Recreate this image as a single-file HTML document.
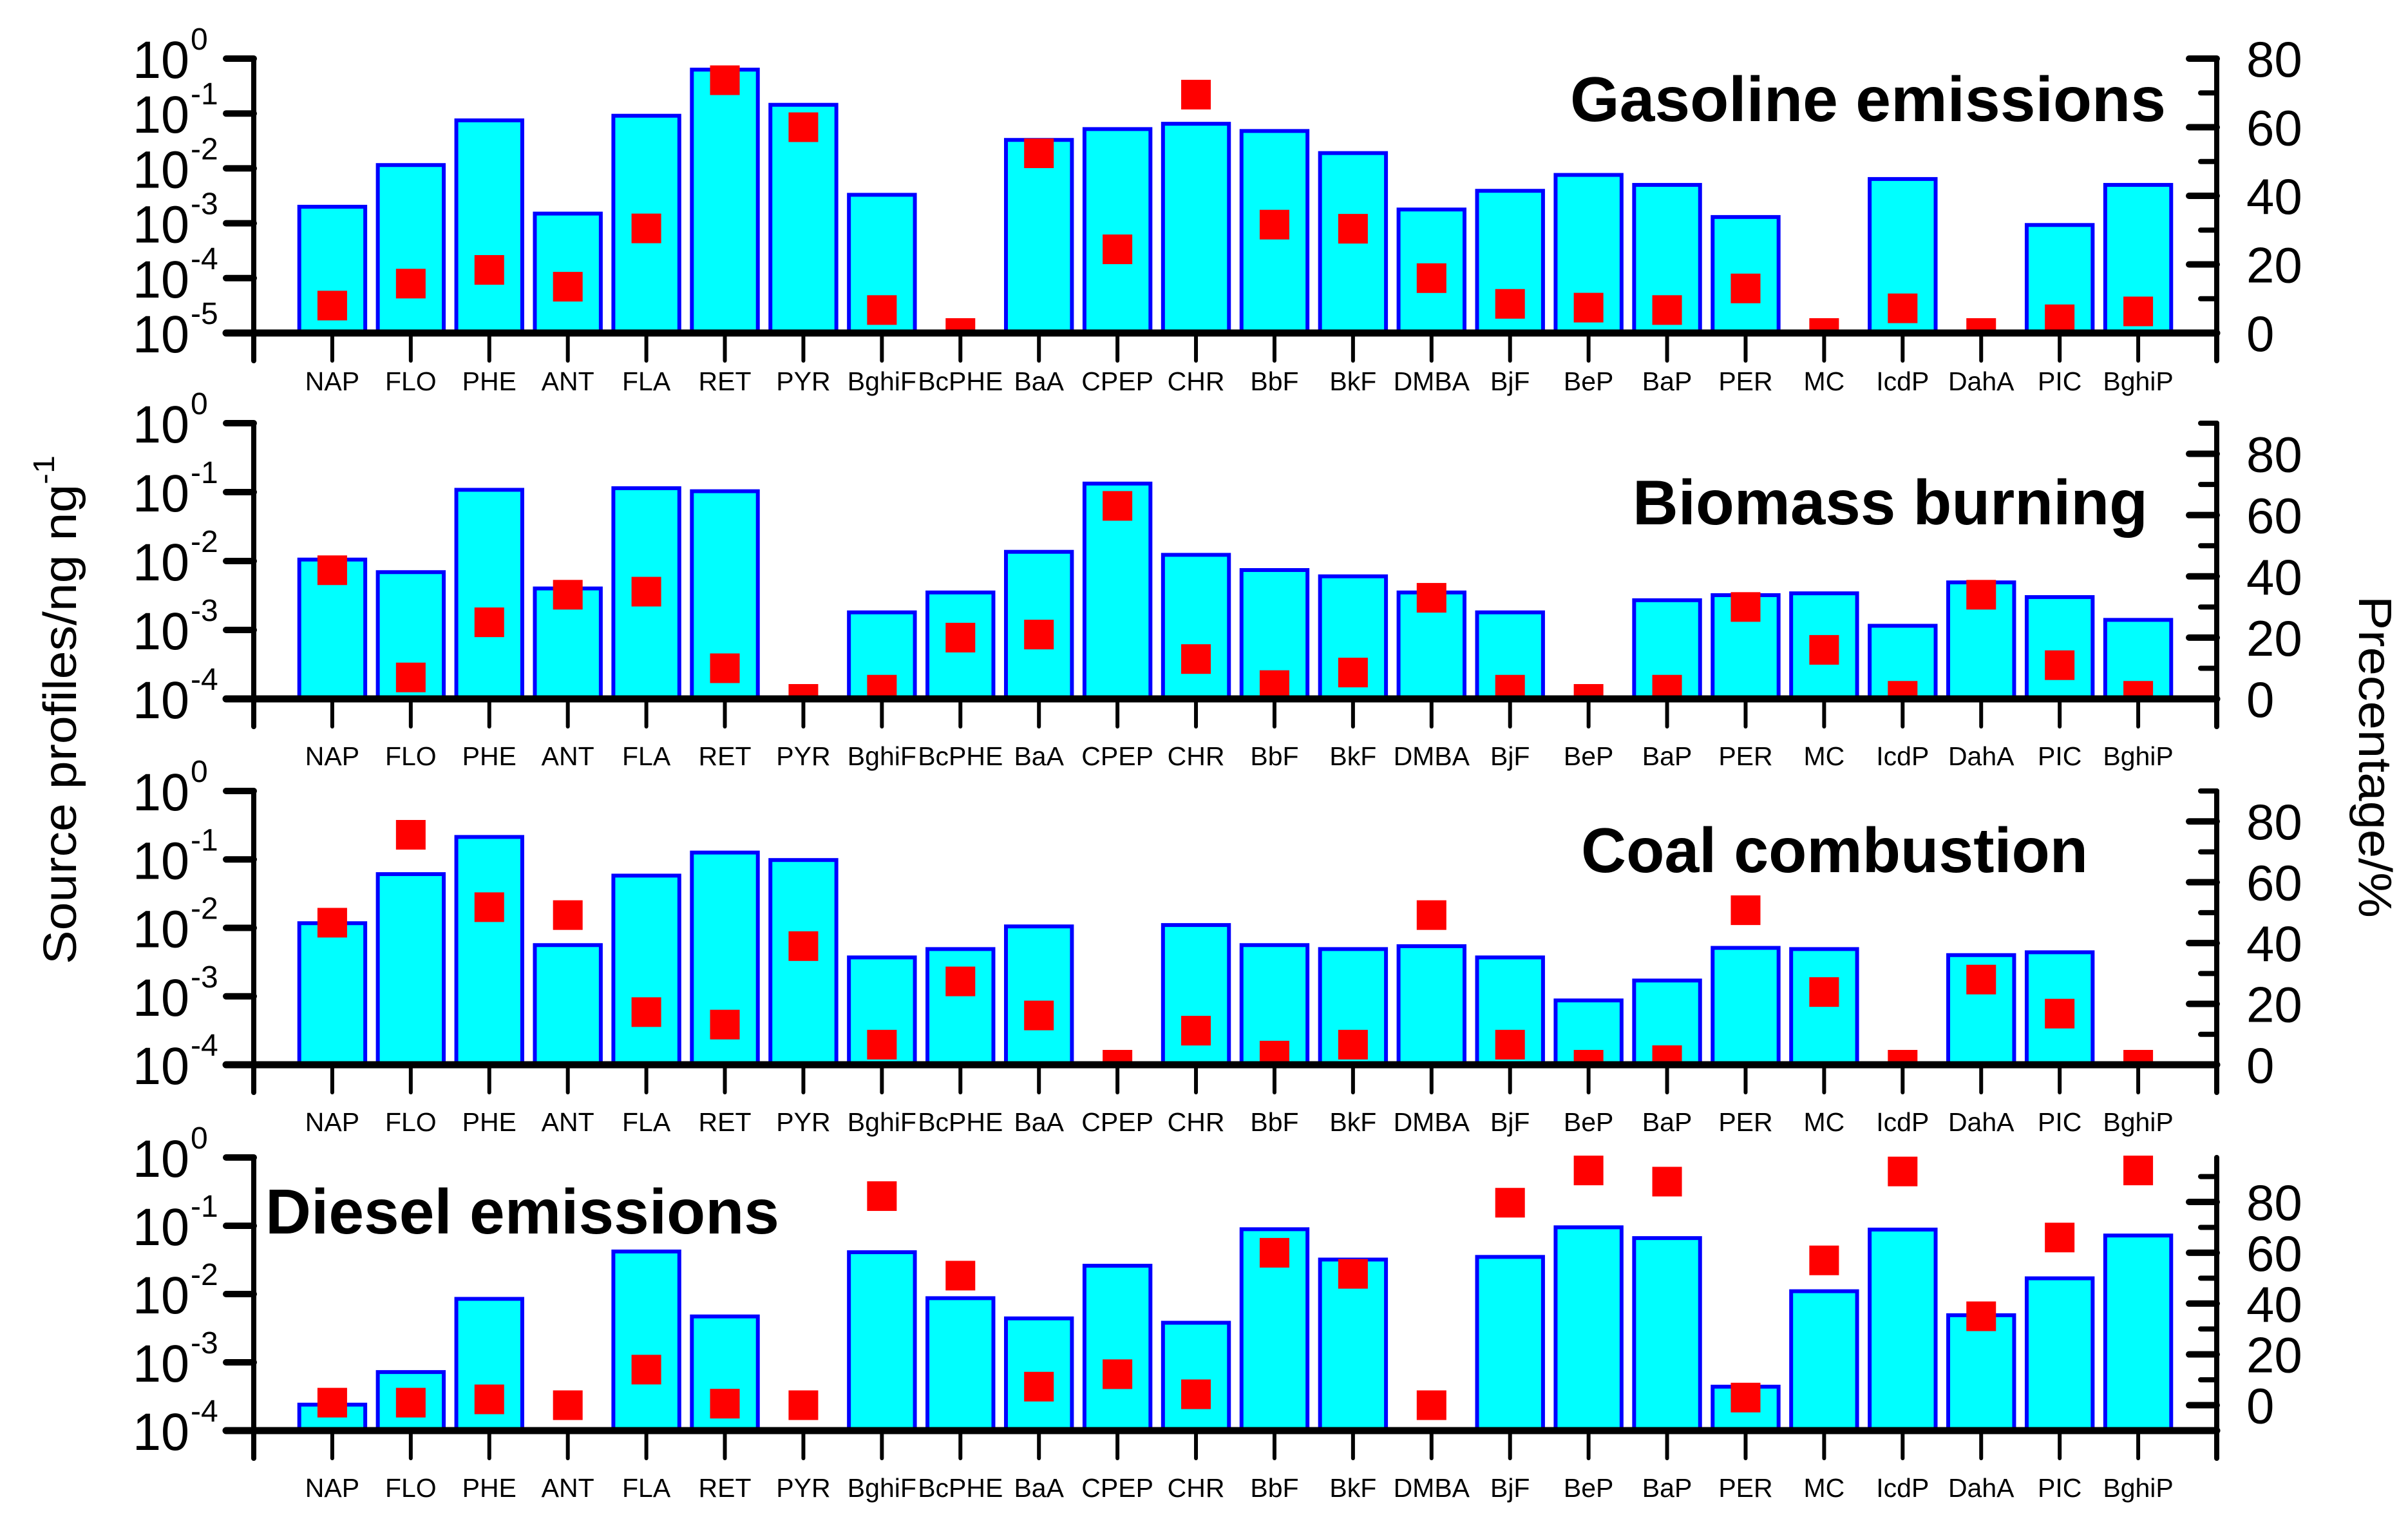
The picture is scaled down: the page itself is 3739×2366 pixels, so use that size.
<!DOCTYPE html>
<html><head><meta charset="utf-8"><title>PAH source profiles</title>
<style>html,body{margin:0;padding:0;background:#fff}svg{display:block}text{font-family:"Liberation Sans",Arial,sans-serif}</style>
</head><body>
<svg id="chart" xmlns="http://www.w3.org/2000/svg" width="3739" height="2366" viewBox="0 0 3739 2366">
<rect width="3739" height="2366" fill="#fff"/>
<g id="plots"></g>
<text transform="translate(118,1102) rotate(-90)" text-anchor="middle" font-size="72" textLength="790" lengthAdjust="spacingAndGlyphs">Source profiles/ng ng<tspan dy="-34" font-size="46">-1</tspan></text>
<text transform="translate(3663,1175) rotate(90)" text-anchor="middle" font-size="72" textLength="500" lengthAdjust="spacingAndGlyphs">Precentage/%</text>
</svg>
<script>
const categories = ["NAP","FLO","PHE","ANT","FLA","RET","PYR","BghiF","BcPHE","BaA","CPEP","CHR","BbF","BkF","DMBA","BjF","BeP","BaP","PER","MC","IcdP","DahA","PIC","BghiP"];
const panelTitles = ["Gasoline emissions","Biomass burning","Coal combustion","Diesel emissions"];
const gasolineProfile = [2.0e-3,0.0115,0.075,1.5e-3,0.091,0.63,0.144,3.3e-3,null,0.033,0.052,0.065,0.048,0.019,1.78e-3,3.9e-3,7.6e-3,5.0e-3,1.3e-3,null,6.4e-3,null,9.3e-4,5.0e-3];
const gasolinePct = [8,14.4,18.4,13.5,30.5,73.7,60,6.7,0,52.4,24.4,69.5,31.6,30.4,16,8.5,7.4,6.7,13,0,7.2,0,4,6.3];
const biomassProfile = [0.0105,6.9e-3,0.108,4.0e-3,0.114,0.103,null,1.8e-3,3.5e-3,0.0136,0.133,0.0123,7.4e-3,6.0e-3,3.5e-3,1.8e-3,null,2.7e-3,3.2e-3,3.4e-3,1.15e-3,4.9e-3,3.0e-3,1.4e-3];
const biomassPct = [42,7,25,34,35,10,0,3,20,21,63,13,4.5,8.6,33,3,0,3,30,16,1,34,11,1];
const coalProfile = [0.0117,0.061,0.213,5.6e-3,0.058,0.126,0.098,3.7e-3,4.9e-3,0.0105,null,0.011,5.6e-3,4.9e-3,5.4e-3,3.7e-3,8.7e-4,1.7e-3,5.1e-3,4.9e-3,null,4.0e-3,4.4e-3,null];
const coalPct = [46.7,75.6,51.8,49.2,17.3,13.2,39,6.6,27.4,16.2,0,11.2,3,6.6,49.2,6.6,0,1.5,50.8,23.9,0,28,16.8,0];
const dieselProfile = [2.4e-4,7.2e-4,8.5e-3,null,0.042,4.7e-3,null,0.041,8.7e-3,4.4e-3,0.026,3.8e-3,0.089,0.032,null,0.035,0.095,0.066,4.4e-4,0.011,0.088,4.9e-3,0.017,0.072];
const dieselPct = [1,1,2.3,0,14,0.6,0,82.3,51,7.3,12.2,4.3,60,51.7,0,79.7,92.4,88,3,57,92,35,66,92.4];
const logTickExps1 = [0,-1,-2,-3,-4,-5];
const logTickExps = [0,-1,-2,-3,-4];
const pctTickLabels = ["0","20","40","60","80"];

const profiles=[gasolineProfile,biomassProfile,coalProfile,dieselProfile];
const pcts=[gasolinePct,biomassPct,coalPct,dieselPct];
const layout=[
 {top:91,bottom:517,minExp:-5,pMin:0,pMax:80,lab:74,title:{x:3363,y:188,anchor:"end",len:925}},
 {top:657,bottom:1085,minExp:-4,pMin:0,pMax:90,lab:88,title:{x:3335,y:814,anchor:"end",len:800}},
 {top:1228,bottom:1653,minExp:-4,pMin:0,pMax:90,lab:88,title:{x:3242,y:1354,anchor:"end",len:787}},
 {top:1797,bottom:2221,minExp:-4,pMin:-10,pMax:97.5,lab:88,title:{x:412,y:1915,anchor:"start",len:798}}
];
const XL=394, XR=3442, slot=(XR-XL)/25;
const NS="http://www.w3.org/2000/svg";
const root=document.getElementById('plots');
function mk(tag,attrs,parent){const e=document.createElementNS(NS,tag);for(const k in attrs)e.setAttribute(k,attrs[k]);(parent||root).appendChild(e);return e;}
function xPos(i){return XL+slot*(i+1);}

layout.forEach((L,p)=>{
  const g=mk('g',{});
  
  
  const decH=(L.bottom-L.top)/(-L.minExp);
  const yLog=v=>L.bottom-(Math.log10(v)-L.minExp)*decH;
  const yPct=v=>L.bottom-(v-L.pMin)/(L.pMax-L.pMin)*(L.bottom-L.top);
  const clipId='clip'+p;
  const cp=mk('clipPath',{id:clipId},g);
  mk('rect',{x:XL,y:L.top-200,width:XR-XL,height:L.bottom-L.top+200},cp);
  profiles[p].forEach((v,i)=>{
    if(v==null)return;
    const y=yLog(v), cx=xPos(i), w=slot*0.84;
    const r=mk('rect',{x:cx-w/2,y:y,width:w,height:L.bottom-y,fill:'#00ffff',stroke:'#0000ff','stroke-width':6},g);
    
    
  });
  const sg=mk('g',{'clip-path':'url(#'+clipId+')'},g);
  pcts[p].forEach((v,i)=>{
    const y=yPct(v), cx=xPos(i);
    const s=mk('rect',{x:cx-23,y:y-23,width:46,height:46,fill:'#ff0000'},sg);
    
    
  });
  const ax=mk('g',{stroke:'#000','stroke-linecap':'round',fill:'none'},g);
  
  
  mk('line',{x1:XL,y1:L.top,x2:XL,y2:L.bottom+43,'stroke-width':8},ax);
  mk('line',{x1:XR,y1:L.top,x2:XR,y2:L.bottom+43,'stroke-width':8},ax);
  mk('line',{x1:XL-43,y1:L.bottom,x2:XR,y2:L.bottom,'stroke-width':11},ax);
  categories.forEach((c,i)=>mk('line',{x1:xPos(i),y1:L.bottom,x2:xPos(i),y2:L.bottom+43,'stroke-width':6},ax));
  const exps=p===0?logTickExps1:logTickExps;
  exps.forEach(e=>{
    const y=L.bottom-(e-L.minExp)*decH;
    mk('line',{x1:XL-43,y1:y,x2:XL,y2:y,'stroke-width':10},ax);
    const t=mk('text',{x:294,y:y+30,'text-anchor':'end','font-size':82,fill:'#000',textLength:88,lengthAdjust:'spacingAndGlyphs'},g);
    t.textContent='10';
    
    
    const s=mk('text',{x:296,y:y-14,'text-anchor':'start','font-size':48,fill:'#000'},g);
    s.textContent=String(e===0?'0':e);
    
    
  });
  for(let v=0; v<=L.pMax; v+=10){
    const y=yPct(v), major=(v%20===0);
    mk('line',{x1:XR-(major?43:25),y1:y,x2:XR,y2:y,'stroke-width':major?10:8},ax);
  }
  pctTickLabels.forEach(lbl=>{
    const y=yPct(Number(lbl));
    const t=mk('text',{x:3488,y:y+28,'font-size':78,fill:'#000'},g);
    t.textContent=lbl;
    
    
  });
  categories.forEach((c,i)=>{
    const t=mk('text',{x:xPos(i),y:L.bottom+L.lab+15,'text-anchor':'middle','font-size':41,fill:'#000'},g);
    t.textContent=c;
    
    
  });
  const T=L.title;
  const tt=mk('text',{x:T.x,y:T.y,'text-anchor':T.anchor,'font-size':98,'font-weight':'bold',fill:'#000',textLength:T.len,lengthAdjust:'spacingAndGlyphs'},g);
  tt.textContent=panelTitles[p];
  
  
});
</script>
</body></html>
